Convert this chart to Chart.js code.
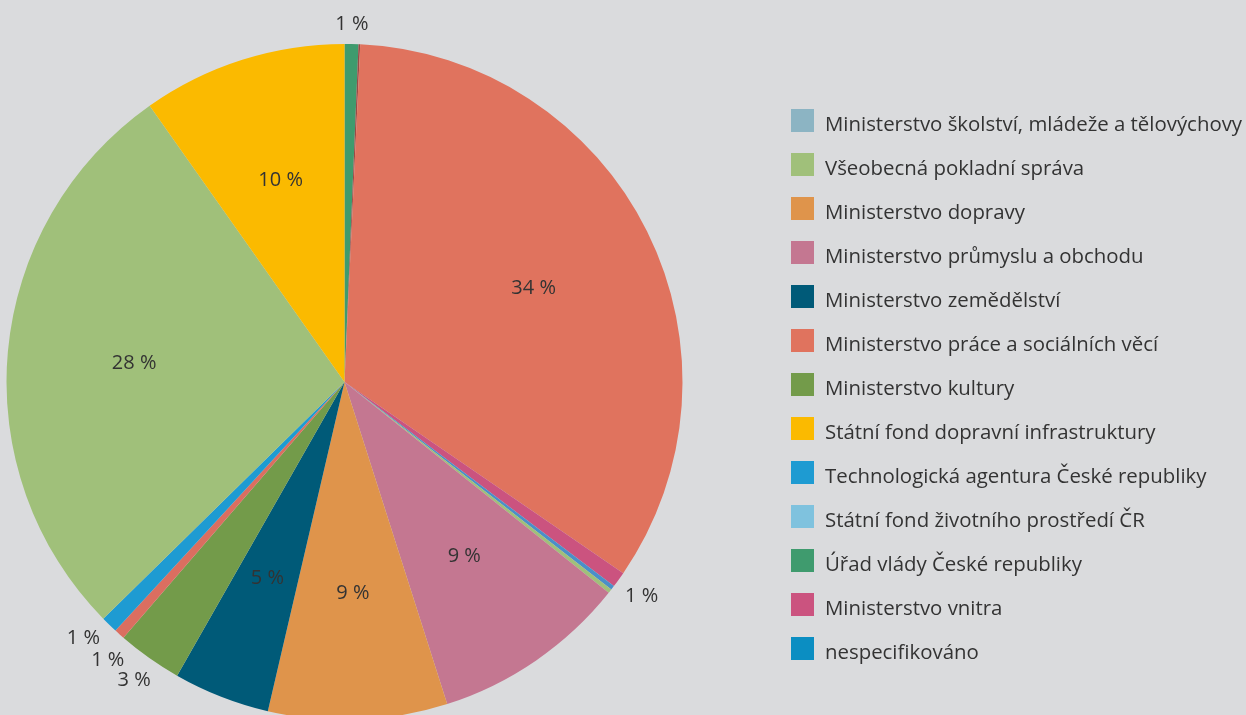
<!DOCTYPE html>
<html lang="cs">
<head>
<meta charset="utf-8">
<title>Podíl poskytovatelů</title>
<script src="https://cdn.jsdelivr.net/npm/chart.js@4/dist/chart.umd.min.js"></script>
<style>
    html, body {
        margin: 0;
        padding: 0;
        background: #dadbdd;
        overflow: hidden;
    }
    .wrap {
        position: relative;
        width: 1246px;
        height: 715px;
        font-family: 'Open Sans', sans-serif;
        color: #333;
    }
    #pie {
        position: absolute;
        left: 0;
        top: 0;
    }
    #legend {
        position: absolute;
        left: 791px;
        top: 109px;
        margin: 0;
        padding: 0;
        list-style: none;
    }
    #legend li {
        display: flex;
        align-items: center;
        height: 23px;
        margin-bottom: 21px;
        white-space: nowrap;
    }
    #legend .box {
        width: 23px;
        height: 23px;
        margin-right: 11px;
        flex: none;
    }
    #legend .text {
        font-size: 20.4px;
        line-height: 23px;
        position: relative;
        top: 3px;
        color: #333;
    }
</style>
</head>
<body>
<div class="wrap">
    <canvas id="pie" width="1246" height="715"></canvas>
    <ul id="legend"></ul>
</div>
<script>
// Slices, clockwise from 12 o'clock (share in %)
const sliceLabels = [
    'Úřad vlády České republiky',
    'Ministerstvo školství, mládeže a tělovýchovy',
    'Ministerstvo práce a sociálních věcí',
    'Ministerstvo vnitra',
    'nespecifikováno',
    'Státní fond životního prostředí ČR',
    'Ministerstvo průmyslu a obchodu',
    'Ministerstvo dopravy',
    'Ministerstvo zemědělství',
    'Ministerstvo kultury',
    'ostatní',
    'Technologická agentura České republiky',
    'Všeobecná pokladní správa',
    'Státní fond dopravní infrastruktury'
];
const sliceValues = [0.66, 0.08, 33.8, 0.75, 0.2, 0.2, 9.36, 8.55, 4.6, 3.1, 0.5, 0.8, 27.55, 9.77];
const sliceColors = [
    '#3f9b6e', '#9b4a45', '#e0735e', '#cb537f', '#4a8fc9', '#a0c07a', '#c47791',
    '#df944b', '#005a78', '#739b4a', '#db6e60', '#1e9bd2', '#a0c07a', '#fbba00'
];

// Legend, in the order it is listed on the right
const legendLabels = [
    'Ministerstvo školství, mládeže a tělovýchovy',
    'Všeobecná pokladní správa',
    'Ministerstvo dopravy',
    'Ministerstvo průmyslu a obchodu',
    'Ministerstvo zemědělství',
    'Ministerstvo práce a sociálních věcí',
    'Ministerstvo kultury',
    'Státní fond dopravní infrastruktury',
    'Technologická agentura České republiky',
    'Státní fond životního prostředí ČR',
    'Úřad vlády České republiky',
    'Ministerstvo vnitra',
    'nespecifikováno'
];
const legendColors = [
    '#8cb4c3', '#a0c07a', '#df944b', '#c47791', '#005a78', '#e0735e', '#739b4a',
    '#fbba00', '#1e9bd2', '#7fc2de', '#3f9b6e', '#cb537f', '#0b8ec2'
];

// Build HTML legend
function buildLegend() {
    const ul = document.getElementById('legend');
    legendLabels.forEach((label, i) => {
        const li = document.createElement('li');
        li.innerHTML = `<span class="box" style="background:${legendColors[i]}"></span><span class="text">${label}</span>`;
        ul.appendChild(li);
    });
}

// Percentage labels: big slices inside, small ones outside the rim
const sliceLabelPlugin = {
    id: 'sliceLabels',
    afterDatasetsDraw(chart) {
        const ctx = chart.ctx;
        const meta = chart.getDatasetMeta(0);
        const outside = [];

        ctx.save();
        ctx.font = '20px "Open Sans", sans-serif';
        ctx.fillStyle = '#333';
        ctx.textAlign = 'center';
        ctx.textBaseline = 'middle';

        meta.data.forEach((arc, i) => {
            const v = sliceValues[i];
            if (v < 0.5) return;
            const p = arc.getProps(['x', 'y', 'startAngle', 'endAngle', 'outerRadius'], true);
            const mid = (p.startAngle + p.endAngle) / 2;
            const text = Math.round(v) + ' %';
            if (v >= 4) {
                const r = p.outerRadius * 0.625;
                ctx.fillText(text, p.x + Math.cos(mid) * r, p.y + Math.sin(mid) * r);
            } else {
                outside.push({ text, angle: mid, p });
            }
        });

        // spread neighbouring outside labels so they don't overlap
        const minGap = 0.09;
        for (let k = 0; k < 30; k++) {
            for (let i = 1; i < outside.length; i++) {
                const d = outside[i].angle - outside[i - 1].angle;
                if (d < minGap) {
                    const push = (minGap - d) / 2;
                    outside[i].angle += push;
                    outside[i - 1].angle -= push;
                }
            }
        }

        outside.forEach(o => {
            const halfW = ctx.measureText(o.text).width / 2;
            const halfH = 10;
            const c = Math.cos(o.angle), s = Math.sin(o.angle);
            const r = o.p.outerRadius + 9 + Math.abs(c) * halfW + Math.abs(s) * halfH;
            ctx.fillText(o.text, o.p.x + c * r, o.p.y + s * r);
        });
        ctx.restore();
    }
};

function createChart() {
    const ctx = document.getElementById('pie');
    new Chart(ctx, {
        type: 'pie',
        data: {
            labels: sliceLabels,
            datasets: [{
                data: sliceValues,
                backgroundColor: sliceColors,
                borderWidth: 0,
                clip: false
            }]
        },
        options: {
            responsive: false,
            animation: false,
            radius: 338,
            layout: {
                padding: { left: 0, right: 557, top: 49, bottom: 0 }
            },
            plugins: {
                legend: { display: false },
                tooltip: { enabled: false }
            }
        },
        plugins: [sliceLabelPlugin]
    });
}

document.addEventListener('DOMContentLoaded', () => {
    buildLegend();
    createChart();
});
</script>
</body>
</html>
